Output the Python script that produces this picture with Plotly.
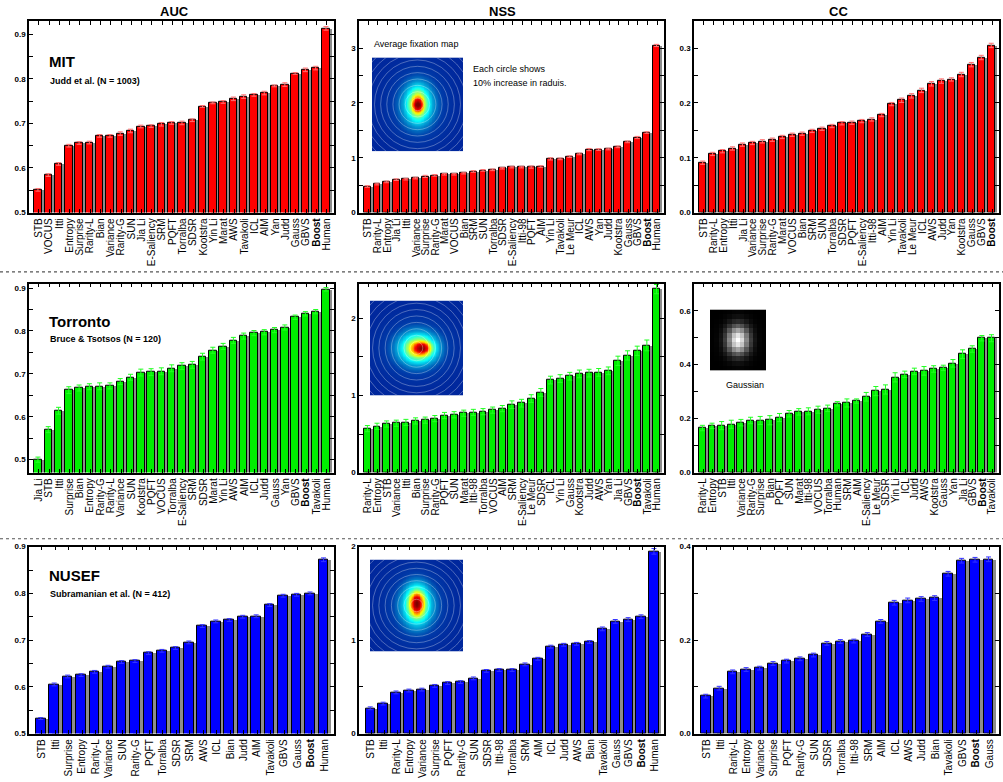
import math
import numpy as np
import plotly.graph_objects as go

W, H = 1003, 782

# ---------------- DATA ----------------
mit_auc_cats = ["STB", "VOCUS", "Itti", "Entropy", "Surprise", "Rarity-L", "Bian", "Variance", "Rarity-G", "SUN",
                "Jia Li", "E-Saliency", "SRM", "PQFT", "Torralba", "SDSR", "Kootstra", "Yin Li", "Marat", "AWS",
                "Tavakoli", "ICL", "AIM", "Yan", "Judd", "Gauss", "GBVS", "Boost", "Human"]
mit_auc_vals = [0.551, 0.584, 0.609, 0.650, 0.656, 0.657, 0.672, 0.672, 0.677, 0.683, 0.693, 0.694, 0.698, 0.701,
                0.701, 0.707, 0.738, 0.746, 0.748, 0.755, 0.760, 0.764, 0.768, 0.784, 0.787, 0.812, 0.820, 0.824, 0.913]
mit_auc_err = [0.003, 0.003, 0.003, 0.003, 0.003, 0.003, 0.003, 0.003, 0.004, 0.004, 0.003, 0.003, 0.004, 0.003,
               0.004, 0.003, 0.002, 0.002, 0.003, 0.004, 0.004, 0.003, 0.004, 0.002, 0.004, 0.002, 0.004, 0.004, 0.004]

mit_nss_cats = ["STB", "Rarity-L", "Entropy", "Jia Li", "Itti", "Variance", "Surprise", "Rarity-G", "Marat", "VOCUS",
                "Bian", "SRM", "SUN", "Torralba", "SDSR", "E-Saliency", "Itti-98", "PQFT", "AIM", "Yin Li",
                "Tavakoli", "Le Meur", "ICL", "AWS", "Yan", "Judd", "Kootstra", "Gauss", "GBVS", "Boost", "Human"]
mit_nss_vals = [0.476, 0.52, 0.56, 0.60, 0.61, 0.63, 0.66, 0.68, 0.70, 0.70, 0.72, 0.75, 0.77, 0.78, 0.81, 0.83,
                0.83, 0.83, 0.84, 0.98, 0.98, 1.02, 1.07, 1.15, 1.15, 1.16, 1.20, 1.29, 1.37, 1.46, 3.05]
mit_nss_err = [0.015, 0.015, 0.015, 0.015, 0.015, 0.015, 0.02, 0.015, 0.015, 0.015, 0.015, 0.015, 0.015, 0.015,
               0.015, 0.015, 0.015, 0.02, 0.015, 0.02, 0.015, 0.015, 0.015, 0.02, 0.015, 0.015, 0.015, 0.015, 0.02,
               0.015, 0.02]

mit_cc_cats = ["STB", "Rarity-L", "Entropy", "Itti", "Jia Li", "Variance", "Surprise", "Rarity-G", "Marat", "VOCUS",
               "Bian", "SRM", "SUN", "Torralba", "SDSR", "PQFT", "E-Saliency", "Itti-98", "AIM", "Yin Li",
               "Tavakoli", "Le Meur", "ICL", "AWS", "Judd", "Yan", "Kootstra", "Gauss", "GBVS", "Boost"]
mit_cc_vals = [0.091, 0.107, 0.112, 0.117, 0.124, 0.127, 0.130, 0.133, 0.138, 0.142, 0.144, 0.149, 0.153, 0.158,
               0.163, 0.164, 0.167, 0.170, 0.178, 0.198, 0.205, 0.213, 0.223, 0.235, 0.240, 0.243, 0.252, 0.270,
               0.283, 0.305]
mit_cc_err = [0.003, 0.003, 0.003, 0.003, 0.003, 0.003, 0.003, 0.003, 0.003, 0.003, 0.003, 0.003, 0.003, 0.003,
              0.003, 0.003, 0.003, 0.003, 0.003, 0.003, 0.004, 0.004, 0.004, 0.004, 0.004, 0.003, 0.004, 0.004,
              0.004, 0.004]

tor_auc_cats = ["Jia Li", "STB", "Itti", "Surprise", "Bian", "Entropy", "Rarity-G", "Rarity-L", "Variance", "SUN",
                "Kootstra", "PQFT", "VOCUS", "Torralba", "E-Saliency", "SRM", "SDSR", "Marat", "Yin Li", "AWS",
                "AIM", "ICL", "Judd", "Gauss", "Yan", "GBVS", "Boost", "Tavakoli", "Human"]
tor_auc_vals = [0.500, 0.570, 0.614, 0.662, 0.667, 0.670, 0.671, 0.672, 0.682, 0.692, 0.703, 0.704, 0.706, 0.713,
                0.718, 0.721, 0.740, 0.755, 0.764, 0.778, 0.788, 0.795, 0.797, 0.802, 0.808, 0.832, 0.840, 0.845,
                0.897]
tor_auc_err = [0.006, 0.007, 0.008, 0.008, 0.007, 0.007, 0.008, 0.007, 0.007, 0.007, 0.008, 0.008, 0.008, 0.008,
               0.008, 0.008, 0.008, 0.007, 0.007, 0.007, 0.007, 0.006, 0.006, 0.006, 0.006, 0.005, 0.005, 0.005,
               0.004]

tor_nss_cats = ["Rarity-L", "Entropy", "STB", "Variance", "Itti", "Bian", "Surprise", "Rarity-G", "PQFT", "SUN",
                "Marat", "Itti-98", "Torralba", "VOCUS", "AIM", "SRM", "E-Saliency", "Le Meur", "SDSR", "ICL",
                "Yin Li", "Gauss", "Kootstra", "Judd", "AWS", "Yan", "Jia Li", "GBVS", "Boost", "Tavakoli", "Human"]
tor_nss_vals = [0.57, 0.60, 0.63, 0.64, 0.65, 0.67, 0.68, 0.70, 0.74, 0.75, 0.77, 0.78, 0.79, 0.81, 0.83, 0.88,
                0.90, 0.96, 1.04, 1.20, 1.22, 1.25, 1.28, 1.29, 1.30, 1.32, 1.45, 1.52, 1.58, 1.65, 2.38]
tor_nss_err = [0.04, 0.04, 0.04, 0.04, 0.04, 0.04, 0.04, 0.04, 0.04, 0.04, 0.04, 0.04, 0.04, 0.04, 0.04, 0.05,
               0.05, 0.05, 0.05, 0.05, 0.05, 0.05, 0.05, 0.05, 0.05, 0.05, 0.06, 0.06, 0.06, 0.07, 0.06]

tor_cc_cats = ["Rarity-L", "Entropy", "STB", "Itti", "Variance", "Rarity-G", "Surprise", "Bian", "PQFT", "SUN",
               "Marat", "Itti-98", "VOCUS", "Torralba", "Human", "SRM", "AIM", "E-Saliency", "Le Meur", "SDSR",
               "Yin Li", "ICL", "Judd", "AWS", "Kootstra", "Gauss", "Yan", "Jia Li", "GBVS", "Boost", "Tavakoli"]
tor_cc_vals = [0.165, 0.173, 0.174, 0.179, 0.185, 0.193, 0.193, 0.194, 0.204, 0.218, 0.225, 0.227, 0.233, 0.238,
               0.255, 0.258, 0.265, 0.281, 0.302, 0.308, 0.353, 0.364, 0.375, 0.377, 0.384, 0.388, 0.405, 0.439,
               0.458, 0.498, 0.498]
tor_cc_err = [0.010, 0.010, 0.015, 0.015, 0.012, 0.012, 0.015, 0.017, 0.015, 0.012, 0.012, 0.013, 0.013, 0.012,
              0.008, 0.015, 0.008, 0.016, 0.017, 0.017, 0.017, 0.012, 0.012, 0.016, 0.012, 0.010, 0.014, 0.016,
              0.012, 0.010, 0.013]

nus_auc_cats = ["STB", "Itti", "Surprise", "Entropy", "Rarity-L", "Variance", "SUN", "Rarity-G", "PQFT", "Torralba",
                "SDSR", "SRM", "AWS", "ICL", "Bian", "Judd", "AIM", "Tavakoli", "GBVS", "Gauss", "Boost", "Human"]
nus_auc_vals = [0.532, 0.605, 0.622, 0.625, 0.632, 0.643, 0.653, 0.655, 0.672, 0.677, 0.683, 0.695, 0.730, 0.740,
                0.743, 0.750, 0.751, 0.775, 0.795, 0.797, 0.800, 0.872]
nus_auc_err = [0.002, 0.003, 0.003, 0.003, 0.003, 0.003, 0.003, 0.003, 0.003, 0.003, 0.003, 0.003, 0.003, 0.003,
               0.003, 0.003, 0.003, 0.003, 0.003, 0.003, 0.003, 0.004]

nus_nss_cats = ["STB", "Itti", "Rarity-L", "Entropy", "Variance", "Surprise", "PQFT", "Rarity-G", "SUN", "SDSR",
                "Itti-98", "Torralba", "SRM", "AIM", "ICL", "Judd", "AWS", "Bian", "Tavakoli", "Gauss", "GBVS",
                "Boost", "Human"]
nus_nss_vals = [0.27, 0.32, 0.44, 0.46, 0.47, 0.51, 0.54, 0.55, 0.59, 0.67, 0.68, 0.68, 0.74, 0.80, 0.93, 0.95,
                0.96, 0.98, 1.12, 1.20, 1.22, 1.25, 1.95]
nus_nss_err = [0.015, 0.015, 0.015, 0.015, 0.015, 0.015, 0.015, 0.015, 0.015, 0.015, 0.015, 0.015, 0.015, 0.015,
               0.015, 0.015, 0.015, 0.015, 0.02, 0.02, 0.02, 0.02, 0.03]

nus_cc_cats = ["STB", "Itti", "Rarity-L", "Entropy", "Variance", "Surprise", "PQFT", "Rarity-G", "SUN", "SDSR",
               "Torralba", "Itti-98", "SRM", "AIM", "ICL", "AWS", "Judd", "Bian", "Tavakoli", "GBVS", "Boost",
               "Gauss"]
nus_cc_vals = [0.080, 0.097, 0.132, 0.137, 0.140, 0.150, 0.155, 0.160, 0.168, 0.193, 0.197, 0.198, 0.212, 0.240,
               0.280, 0.285, 0.288, 0.290, 0.342, 0.370, 0.372, 0.373]
nus_cc_err = [0.004, 0.004, 0.004, 0.004, 0.004, 0.004, 0.004, 0.004, 0.004, 0.004, 0.004, 0.004, 0.004, 0.004,
              0.005, 0.005, 0.005, 0.005, 0.005, 0.005, 0.005, 0.005]

col_titles = ["AUC", "NSS", "CC"]

# ---------------- LAYOUT HELPERS ----------------
def xd(l, r):
    return [l / W, r / W]

def yd(t, b):
    return [1 - b / H, 1 - t / H]

col_x = [(29, 334), (359, 664), (694, 999)]
row_y = [(17, 211), (283, 474), (549, 738)]

panels = [
    (0, 0, mit_auc_cats, mit_auc_vals, mit_auc_err, "#ff0000", "#ff7070", [0.5, 0.93], 0.05, 0.1, "{:.1f}"),
    (0, 1, mit_nss_cats, mit_nss_vals, mit_nss_err, "#ff0000", "#ff7070", [0, 3.5], 0.5, 1, "{:.0f}"),
    (0, 2, mit_cc_cats, mit_cc_vals, mit_cc_err, "#ff0000", "#ff7070", [0, 0.35], 0.05, 0.1, "{:.1f}"),
    (1, 0, tor_auc_cats, tor_auc_vals, tor_auc_err, "#00ee00", "#22ff22", [0.47, 0.91], 0.05, 0.1, "{:.1f}"),
    (1, 1, tor_nss_cats, tor_nss_vals, tor_nss_err, "#00ee00", "#22ff22", [0, 2.45], 0.5, 1, "{:.0f}"),
    (1, 2, tor_cc_cats, tor_cc_vals, tor_cc_err, "#00ee00", "#22ff22", [0, 0.7], 0.1, 0.2, "{:.1f}"),
    (2, 0, nus_auc_cats, nus_auc_vals, nus_auc_err, "#0000ff", "#3333ff", [0.5, 0.9], 0.05, 0.1, "{:.1f}"),
    (2, 1, nus_nss_cats, nus_nss_vals, nus_nss_err, "#0000ff", "#3333ff", [0, 2.0], 0.5, 1, "{:.0f}"),
    (2, 2, nus_cc_cats, nus_cc_vals, nus_cc_err, "#0000ff", "#3333ff", [0, 0.4], 0.1, 0.2, "{:.1f}"),
]

fig = go.Figure()
layout = {}
FONT = "Liberation Sans, Arial, sans-serif"

for i, (r, c, cats, vals, err, colr, ecol, yr, tstep, lstep, fmt) in enumerate(panels):
    k = i + 1
    xa = "x" if k == 1 else f"x{k}"
    ya = "y" if k == 1 else f"y{k}"
    n = len(cats)
    xs = list(range(n))
    fig.add_trace(go.Bar(x=xs, y=vals, width=0.72, offset=-0.22,
                         marker=dict(color="#8c8c8c", line=dict(width=0)),
                         xaxis=xa, yaxis=ya, showlegend=False, hoverinfo="skip"))
    fig.add_trace(go.Bar(x=xs, y=vals, width=0.72, offset=-0.44,
                         marker=dict(color=colr, line=dict(color="black", width=1)),
                         error_y=dict(type="data", array=err, color=ecol, thickness=1, width=2.5),
                         xaxis=xa, yaxis=ya, showlegend=False))
    ticktext = [("<b>Boost</b>" if t == "Boost" else t) for t in cats]
    tv, tt = [], []
    m = math.ceil(yr[0] / tstep - 1e-9)
    while m * tstep <= yr[1] + 1e-9:
        v = round(m * tstep, 4)
        ratio = v / lstep
        tv.append(v)
        tt.append("<b>" + fmt.format(v) + "</b>" if abs(ratio - round(ratio)) < 1e-6 else "")
        m += 1
    layout["xaxis" if k == 1 else f"xaxis{k}"] = dict(
        domain=xd(*col_x[c]), anchor=ya, range=[-0.95, n - 0.3],
        tickmode="array", tickvals=xs, ticktext=ticktext, tickangle=-90,
        ticks="inside", ticklen=4, tickcolor="black", mirror="ticks",
        showline=True, linecolor="black", linewidth=1.5, showgrid=False, zeroline=False,
        tickfont=dict(family=FONT, size=10, color="black"), fixedrange=True)
    layout["yaxis" if k == 1 else f"yaxis{k}"] = dict(
        domain=yd(*row_y[r]), anchor=xa, range=yr,
        tickmode="array", tickvals=tv, ticktext=tt,
        ticks="inside", ticklen=4, tickcolor="black", mirror="ticks",
        showline=True, linecolor="black", linewidth=1.5, showgrid=False, zeroline=False,
        tickfont=dict(family=FONT, size=8, color="black"), fixedrange=True)

# ---------------- INSET IMAGES (decorative fixation maps) ----------------
g = np.linspace(-1, 1, 60)
X, Y = np.meshgrid(g, g)

def bump(cx, cy, sx, sy):
    return np.exp(-(((X - cx) / sx) ** 2 + ((Y - cy) / sy) ** 2))

z_mit = (0.13 + 0.24 * bump(0, 0, 0.5, 0.62) + 0.33 * bump(0, 0.02, 0.2, 0.32)
         + 0.36 * bump(0, 0, 0.1, 0.12))
z_tor = (0.13 + 0.24 * bump(0, 0, 0.6, 0.5) + 0.33 * bump(0.05, 0.0, 0.32, 0.24)
         + 0.32 * bump(0.12, 0.0, 0.16, 0.11))
z_nus = (0.13 + 0.24 * bump(0, 0, 0.5, 0.62) + 0.33 * bump(0, 0.05, 0.22, 0.36)
         + 0.32 * bump(0, 0.05, 0.11, 0.2))

insets = [
    (372, 54, 463, 149, z_mit),
    (370, 300, 463, 396, z_tor),
    (370, 562, 463, 655, z_nus),
]
k0 = 10
shapes = []
for j, (l, t, rr, b, z) in enumerate(insets):
    k = k0 + j
    fig.add_trace(go.Heatmap(z=z, x=g, y=g, colorscale="Jet", zmin=0, zmax=1.0, showscale=False,
                             xaxis=f"x{k}", yaxis=f"y{k}", hoverinfo="skip", zsmooth="best"))
    layout[f"xaxis{k}"] = dict(domain=xd(l, rr), anchor=f"y{k}", range=[-1, 1], visible=False, fixedrange=True)
    layout[f"yaxis{k}"] = dict(domain=yd(t, b), anchor=f"x{k}", range=[-1, 1], visible=False, fixedrange=True)
    for m in range(1, 12):
        rad = 0.135 * m
        shapes.append(dict(type="circle", xref=f"x{k}", yref=f"y{k}", x0=-rad, x1=rad, y0=-rad, y1=rad,
                           line=dict(color="rgba(255,255,255,0.3)", width=1), layer="above"))

# Gaussian inset (grayscale, pixelated)
gg = np.linspace(-1, 1, 13)
GX, GY = np.meshgrid(gg, gg)
gz = np.exp(-((GX / 0.42) ** 2 + (GY / 0.5) ** 2))
k = 13
fig.add_trace(go.Heatmap(z=gz, colorscale=[[0, "black"], [1, "white"]], zmin=0, zmax=1, showscale=False,
                         xaxis=f"x{k}", yaxis=f"y{k}", hoverinfo="skip"))
layout[f"xaxis{k}"] = dict(domain=xd(710, 766), anchor=f"y{k}", visible=False, fixedrange=True,
                          range=[-0.5, 12.5])
layout[f"yaxis{k}"] = dict(domain=yd(309, 371), anchor=f"x{k}", visible=False, fixedrange=True,
                          range=[-0.5, 12.5])

# separators
for yy in (271, 541):
    shapes.append(dict(type="line", xref="paper", yref="paper", x0=0, x1=1, y0=1 - yy / H, y1=1 - yy / H,
                       line=dict(color="#555555", width=1.2, dash="dot")))

ann = []
def A(text, x, y, size, bold=False, xanchor="left"):
    ann.append(dict(text=("<b>" + text + "</b>") if bold else text, x=x / W, y=1 - y / H, xref="paper",
                    yref="paper", showarrow=False, xanchor=xanchor, yanchor="middle",
                    font=dict(family=FONT, size=size, color="black")))

for t, cx in zip(col_titles, [174, 502, 838]):
    A(t, cx, 8, 13, True, "center")
A("MIT", 47, 58, 15, True)
A("Judd et al. (N = 1003)", 48, 78, 9, True)
A("Torronto", 47, 321, 15, True)
A("Bruce &amp; Tsotsos (N = 120)", 48, 339, 9, True)
A("NUSEF", 47, 578, 15, True)
A("Subramanian et al. (N = 412)", 48, 597, 9, True)
A("Average fixation map", 372, 40, 9)
A("Each circle shows", 471, 66, 9)
A("10% increase in raduis.", 471, 80, 9)
A("Gaussian", 724, 385, 9)

fig.update_layout(**layout)
fig.update_layout(width=W, height=H, margin=dict(l=0, r=0, t=0, b=0), paper_bgcolor="white",
                  plot_bgcolor="white", barmode="overlay", bargap=0, shapes=shapes, annotations=ann,
                  showlegend=False)
fig.write_html("out.html", config={"displayModeBar": False},
               post_script="document.body.style.margin='0px';document.body.style.overflow='hidden';")
